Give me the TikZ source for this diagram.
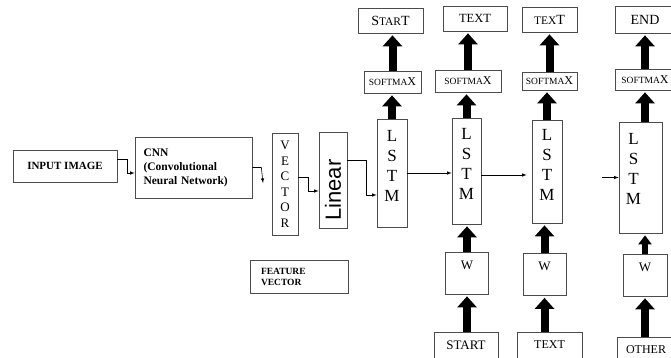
\documentclass[tikz,border=0pt]{standalone}
\usepackage{fontspec}
\setmainfont{Liberation Serif}
\setsansfont{Liberation Sans}
\usetikzlibrary{arrows.meta}
\newcommand{\capsmall}[2]{{\fontsize{#1}{#1}\selectfont #2}}

\begin{document}
\begin{tikzpicture}[x = 1pt, y = -1pt]
		\tikzset{> = latex}
		\tikzset{box/.style = {draw = black!70, line width = 0.7pt, inner sep = 0pt, font = \fontsize{12}{14}\selectfont},
			lstm/.style = {box, label = {[yshift = 7pt, align = center, font = \fontsize{17}{20}\selectfont]center:{L\\S\\T\\M}}},
			softmax/.style = {box, font = \fontsize{12}{13}\selectfont},
			wbox/.style = {box, minimum width = 43, minimum height = 42, label = {[yshift = 8pt, font = \fontsize{13}{15}\selectfont]center:W}},
			fat/.style = {line width = 8pt, -{Triangle[length = 11pt, width = 19pt]}, shorten > = 2pt},
			slim/.style = {line width = 6pt, -{Triangle[length = 9pt, width = 13pt]}, shorten > = 2pt},
			link/.style = {->, line width = 0.6pt}}
		\useasboundingbox (0,0) rectangle (671,357);
		\node[box, minimum width = 104, minimum height = 32, font = \bfseries\fontsize{11}{13}\selectfont] (img) at (65,166) {INPUT IMAGE};
		\node[box, minimum width = 117, minimum height = 61, text width = 100, align = left, font = \bfseries\fontsize{11.5}{14}\selectfont] (cnn) at (193.5,167.5) {CNN\\(Convolutional\\Neural Network)};
		\node[box, minimum width = 26, minimum height = 102, align = center, font = \fontsize{13}{15.5}\selectfont] (vec) at (285,184) {V\\E\\C\\T\\O\\R};
		\node[box, minimum width = 28, minimum height = 96, label = {[yshift = -10pt, font = \sffamily\fontsize{22}{22}\selectfont]center:{\rotatebox{90}{Linear}}}] (lin) at (333,180) {};
		\node[box, minimum width = 98, minimum height = 33, text width = 76, align = left, font = \bfseries\fontsize{9.5}{11}\selectfont] (feat) at (299,276.5) {FEATURE\\VECTOR};
		\node[lstm, minimum width = 30, minimum height = 108] (lstm1) at (392,173) {};
		\node[lstm, minimum width = 29, minimum height = 106] (lstm2) at (466.5,171) {};
		\node[lstm, minimum width = 30, minimum height = 103] (lstm3) at (547,171.5) {};
		\node[box, minimum width = 43, minimum height = 111, label = {[xshift = -7pt, yshift = 9pt, align = center, font = \fontsize{17}{20}\selectfont]center:{L\\S\\T\\M}}] (lstm4) at (640.5,177.5) {};
		\node[softmax, minimum width = 57, minimum height = 22] (sm1) at (392.5,82) {\capsmall{9.5}{SOFTMA}X};
		\node[softmax, minimum width = 66, minimum height = 22] (sm2) at (468,81) {\capsmall{9.5}{SOFTMA}X};
		\node[softmax, minimum width = 55, minimum height = 18] (sm3) at (549.5,81) {\capsmall{9.5}{SOFTMA}X};
		\node[softmax, minimum width = 60, minimum height = 21] (sm4) at (645,79.5) {\capsmall{9.5}{SOFTMA}X};
		\node[box, minimum width = 65, minimum height = 25, font = \fontsize{14}{16}\selectfont] (out1) at (390.5,20.5) {S\capsmall{11.5}{TAR}T};
		\node[box, minimum width = 64, minimum height = 25, font = \fontsize{12.5}{14}\selectfont] (out2) at (475,18.5) {TEXT};
		\node[box, minimum width = 55, minimum height = 25, font = \fontsize{14}{16}\selectfont] (out3) at (549.5,19.5) {\capsmall{11.5}{TEX}T};
		\node[box, minimum width = 60, minimum height = 27, font = \fontsize{14}{16}\selectfont] (out4) at (645,19.5) {END};
		\node[wbox] (w2) at (467,273) {};
		\node[wbox] (w3) at (544.5,274.5) {};
		\node[wbox, minimum width = 44] (w4) at (645,275) {};
		\node[box, minimum width = 64, minimum height = 26, font = \fontsize{13}{15}\selectfont] (in2) at (466,345) {START};
		\node[box, minimum width = 65, minimum height = 26, font = \fontsize{12}{14}\selectfont] (in3) at (549.5,345) {TEXT};
		\node[box, minimum width = 58, minimum height = 26, font = \fontsize{12}{14}\selectfont] (in4) at (646,350) {OTHER};
		\coordinate (cnnout) at (263,183);
		\coordinate (gap4) at (602,177.5);
		\draw[link] ([yshift = 7pt]img.east) -- ++(10,0) |- ([yshift = -5.5pt]cnn.west);
		\draw[link] (cnn.east) -- ++(9,0) -- (cnnout);
		\draw[link] ([yshift = 7pt]vec.east) -- ++(10,0) |- ([yshift = -11pt]lin.west);
		\draw[link] ([yshift = 20pt]lin.east) -- ++(19,0) |- ([yshift = -22pt]lstm1.west);
		\draw[link] (lstm1.east) -- (lstm1.east -| lstm2.west);
		\draw[link, shorten > = 5pt] ([yshift = -4pt]lstm2.east) -- ([yshift = -4pt]lstm2.east -| lstm3.west);
		\draw[link] (gap4) -- (lstm4.west);
		\draw[fat] (lstm1.north) -- (lstm1.north |- sm1.south);
		\draw[fat] (lstm2.north) -- (lstm2.north |- sm2.south);
		\draw[fat] (lstm3.north) -- (lstm3.north |- sm3.south);
		\draw[fat] (sm1.north) -- (sm1.north |- out1.south);
		\draw[fat] (sm2.north) -- (sm2.north |- out2.south);
		\draw[fat] (sm3.north) -- (sm3.north |- out3.south);
		\draw[fat] (lstm4.north -| sm4.north) -- (sm4.south);
		\draw[fat] (sm4.north) -- (sm4.north |- out4.south);
		\draw[fat] (w2.north) -- (w2.north |- lstm2.south);
		\draw[fat] (w3.north) -- (w3.north |- lstm3.south);
		\draw[slim] (w4.north) -- (w4.north |- lstm4.south);
		\draw[fat] (w2.south |- in2.north) -- (w2.south);
		\draw[fat] (w3.south |- in3.north) -- (w3.south);
		\draw[fat] (w4.south |- in4.north) -- (w4.south);
	\end{tikzpicture}
\end{document}
